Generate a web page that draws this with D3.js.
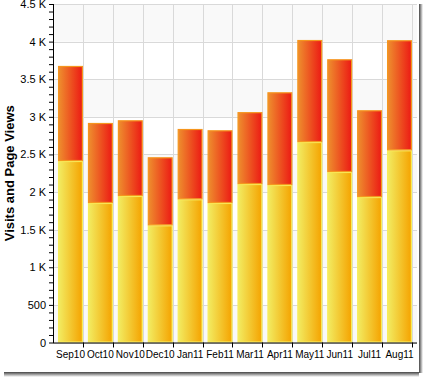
<!DOCTYPE html>
<html>
<head>
<meta charset="utf-8">
<script src="https://cdn.jsdelivr.net/npm/d3@7"></script>
<style>
	body { margin: 0; background: #fff; }
	svg { display: block; font-family: "Liberation Sans", Arial, sans-serif; }
</style>
</head>
<body>
<div id="chart"></div>
<script>
const months = ['Sep10', 'Oct10', 'Nov10', 'Dec10', 'Jan11', 'Feb11', 'Mar11', 'Apr11', 'May11', 'Jun11', 'Jul11', 'Aug11'];
const visits = [2413, 1855, 1948, 1558, 1904, 1855, 2107, 2094, 2665, 2267, 1934, 2555];
const pageViews = [1263, 1063, 1006, 904, 934, 966, 955, 1232, 1356, 1498, 1153, 1463];
const yTicks = [0, 500, 1000, 1500, 2000, 2500, 3000, 3500, 4000, 4500];
const yTickLabels = ['0', '500', '1 K', '1.5 K', '2 K', '2.5 K', '3 K', '3.5 K', '4 K', '4.5 K'];
const seriesNames = ['visits', 'pageViews'];

class StackedBars {
	constructor(_config) {
		this.config = {
			parentElement: _config.parentElement,
			containerWidth: 423,
			containerHeight: 377,
			margin: { top: 4, right: 6, bottom: 34.5, left: 53 },
		};
		this.initVis();
	}

	initVis() {
		let vis = this;
		const m = vis.config.margin;
		vis.width = vis.config.containerWidth - m.left - m.right;
		vis.height = vis.config.containerHeight - m.top - m.bottom;

		vis.svg = d3.select(vis.config.parentElement)
			.append('svg')
			.attr('width', vis.config.containerWidth)
			.attr('height', vis.config.containerHeight);

		const defs = vis.svg.append('defs');
		const grad = (id, stops, x2, y2) => {
			const g = defs.append('linearGradient').attr('id', id)
				.attr('x1', 0).attr('y1', 0).attr('x2', x2).attr('y2', y2);
			stops.forEach(([o, c]) => g.append('stop').attr('offset', o).attr('stop-color', c));
		};
		grad('g-visits', [[0, '#f2ec62'], [1, '#f5a300']], 1, 0);
		grad('g-views', [[0, '#ee8f2e'], [1, '#ec1a14']], 1, 0);
		grad('g-shadow-r', [[0, '#444'], [1, '#fff']], 1, 0);
		grad('g-shadow-b', [[0, '#444'], [1, '#fff']], 0, 1);

		// drop shadow around the picture
		vis.svg.append('rect').attr('x', 419).attr('y', 4).attr('width', 4).attr('height', 369)
			.attr('fill', 'url(#g-shadow-r)');
		vis.svg.append('rect').attr('x', 4).attr('y', 372).attr('width', 415).attr('height', 5)
			.attr('fill', 'url(#g-shadow-b)');

		vis.chart = vis.svg.append('g')
			.attr('transform', `translate(${m.left},${m.top})`);

		vis.x = d3.scaleBand()
			.domain(months)
			.range([0, vis.width])
			.padding(0.17);

		vis.y = d3.scaleLinear()
			.domain([0, 4500])
			.range([vis.height, 0]);
	}

	renderVis() {
		let vis = this;

		// alternating background bands
		vis.chart.selectAll('.band')
			.data(yTicks.slice(0, -1))
			.join('rect')
			.attr('class', 'band')
			.attr('x', 0)
			.attr('width', vis.width)
			.attr('y', d => vis.y(d + 500))
			.attr('height', d => vis.y(d) - vis.y(d + 500))
			.attr('fill', (d, i) => i % 2 === 0 ? '#f9f9f9' : '#ffffff');

		// grid lines
		vis.chart.selectAll('.hgrid')
			.data(yTicks)
			.join('line')
			.attr('x1', 0).attr('x2', vis.width)
			.attr('y1', d => Math.round(vis.y(d)) + 0.5)
			.attr('y2', d => Math.round(vis.y(d)) + 0.5)
			.attr('stroke', '#d9d9d9');

		const step = vis.x.step();
		vis.chart.selectAll('.vgrid')
			.data(d3.range(1, months.length + 1))
			.join('line')
			.attr('x1', d => Math.round(d * step) + 0.5)
			.attr('x2', d => Math.round(d * step) + 0.5)
			.attr('y1', 0).attr('y2', vis.height)
			.attr('stroke', '#d9d9d9');

		// stacked bars
		const rows = months.map((mo, i) => ({ month: mo, visits: visits[i], pageViews: pageViews[i] }));
		const stack = d3.stack().keys(seriesNames)(rows);

		vis.chart.selectAll('.series')
			.data(stack)
			.join('g')
			.attr('class', 'series')
			.attr('fill', d => d.key === 'visits' ? 'url(#g-visits)' : 'url(#g-views)')
			.attr('stroke', d => d.key === 'visits' ? '#f8ec5a' : '#f5961e')
			.selectAll('rect')
			.data(d => d)
			.join('rect')
			.attr('x', d => vis.x(d.data.month) + 0.5)
			.attr('width', vis.x.bandwidth() - 1)
			.attr('y', d => vis.y(d[1]) + 0.5)
			.attr('height', d => vis.y(d[0]) - vis.y(d[1]) - 1)
			.attr('stroke-width', 1.2);

		// y axis
		const yAxis = d3.axisLeft(vis.y)
			.tickValues(d3.range(0, 4501, 100))
			.tickSize(4)
			.tickFormat(d => {
				const k = yTicks.indexOf(d);
				return k >= 0 ? yTickLabels[k] : '';
			});

		const gy = vis.chart.append('g').call(yAxis);
		gy.select('.domain').attr('stroke', '#000').attr('d', `M0.5,0V${vis.height + 0.5}`);
		gy.selectAll('.tick line').attr('stroke', '#000');
		gy.selectAll('.tick text')
			.attr('x', -7)
			.attr('fill', '#000')
			.style('font-size', '11px');

		// x axis
		const xAxis = d3.axisBottom(vis.x).tickSize(0).tickPadding(8);
		const gx = vis.chart.append('g')
			.attr('transform', `translate(0,${vis.height})`)
			.call(xAxis);
		gx.select('.domain').attr('stroke', '#000').attr('d', `M0,0.5H${vis.width}`);
		gx.selectAll('.tick text').attr('fill', '#000').style('font-size', '10px');

		gx.selectAll('.xtick')
			.data(d3.range(1, months.length + 1))
			.join('line')
			.attr('x1', d => Math.round(d * step) + 0.5)
			.attr('x2', d => Math.round(d * step) + 0.5)
			.attr('y1', 0).attr('y2', 5)
			.attr('stroke', '#000');

		// axis title
		vis.svg.append('text')
			.attr('transform', `translate(14,${m_top(vis) + vis.height / 2}) rotate(-90)`)
			.attr('text-anchor', 'middle')
			.style('font-size', '13px')
			.style('font-weight', 'bold')
			.text('Visits and Page Views');
	}
}

function m_top(vis) { return vis.config.margin.top; }

const chart = new StackedBars({ parentElement: '#chart' });
chart.renderVis();
</script>
</body>
</html>
